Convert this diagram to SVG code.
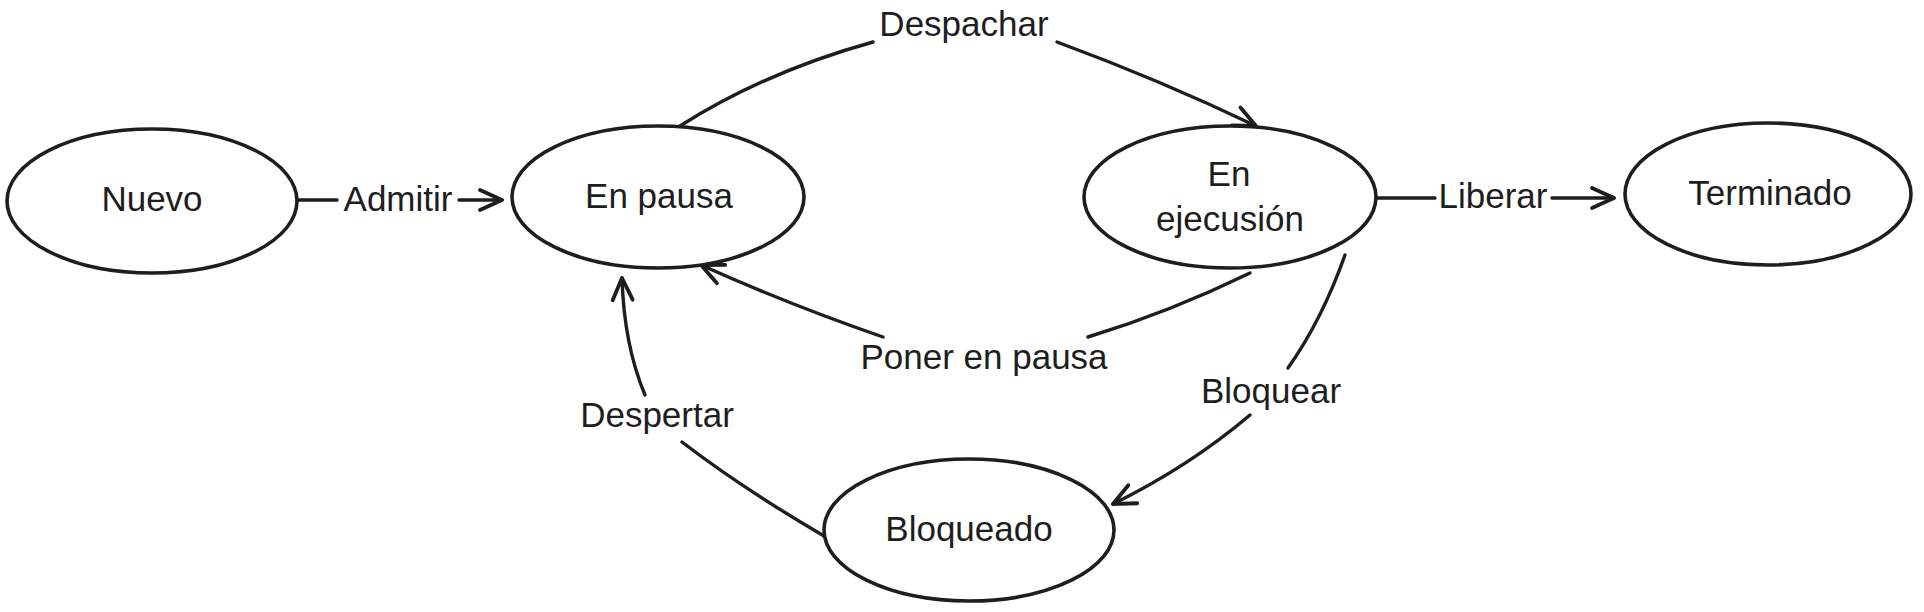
<svg xmlns="http://www.w3.org/2000/svg" width="1924" height="612" viewBox="0 0 1924 612">
<style>
.node ellipse{fill:#ffffff;stroke:#1e1e1e;stroke-width:3.6}
text{font-family:"Liberation Sans",Arial,sans-serif;font-size:35px;fill:#1e1e1e;text-anchor:middle}
.conn path{fill:none;stroke:#1e1e1e;stroke-width:3.4;stroke-linecap:round}
</style>
<defs>
<marker id="arr" markerUnits="userSpaceOnUse" markerWidth="40" markerHeight="40" viewBox="-30 -20 40 40" refX="0" refY="0" orient="auto">
<path d="M-22,-10 L0,0 L-22,10" fill="none" stroke="#1e1e1e" stroke-width="3.8" stroke-linecap="round" stroke-linejoin="round"/>
</marker>
</defs>
<rect width="1924" height="612" fill="#ffffff"/>
<g id="connectors" class="conn">
<path d="M297,200 L337,200"/>
<path d="M459,200 L502,200" marker-end="url(#arr)"/>
<path d="M680,126 Q765,72 873,42"/>
<path d="M1057,42 Q1160,80 1256,126" marker-end="url(#arr)"/>
<path d="M1377,198 L1435,198"/>
<path d="M1552,198 L1614,198" marker-end="url(#arr)"/>
<path d="M1250,273 Q1170,312 1088,337"/>
<path d="M883,337 Q790,305 701,265" marker-end="url(#arr)"/>
<path d="M1345,255 Q1322,320 1288,368"/>
<path d="M1250,415 Q1190,466 1113,504" marker-end="url(#arr)"/>
<path d="M824,536 Q742,488 682,442"/>
<path d="M645,395 Q624,345 622,278" marker-end="url(#arr)"/>
</g>
<g id="labels">
<text x="398" y="211">Admitir</text>
<text x="964" y="36">Despachar</text>
<text x="1493" y="208">Liberar</text>
<text x="984" y="369">Poner en pausa</text>
<text x="1271" y="403">Bloquear</text>
<text x="657" y="427">Despertar</text>
</g>
<g id="node-nuevo" class="node">
<ellipse cx="152" cy="201" rx="145" ry="72"/>
<text x="152" y="211">Nuevo</text>
</g>
<g id="node-en-pausa" class="node">
<ellipse cx="658" cy="197" rx="146" ry="71"/>
<text x="659" y="208">En pausa</text>
</g>
<g id="node-en-ejecucion" class="node">
<ellipse cx="1230" cy="197" rx="146" ry="71"/>
<text x="1229" y="186">En</text>
<text x="1230" y="231">ejecusión</text>
</g>
<g id="node-terminado" class="node">
<ellipse cx="1768" cy="194" rx="143" ry="71"/>
<text x="1770" y="205">Terminado</text>
</g>
<g id="node-bloqueado" class="node">
<ellipse cx="969" cy="530" rx="145" ry="71"/>
<text x="969" y="541">Bloqueado</text>
</g>
</svg>
